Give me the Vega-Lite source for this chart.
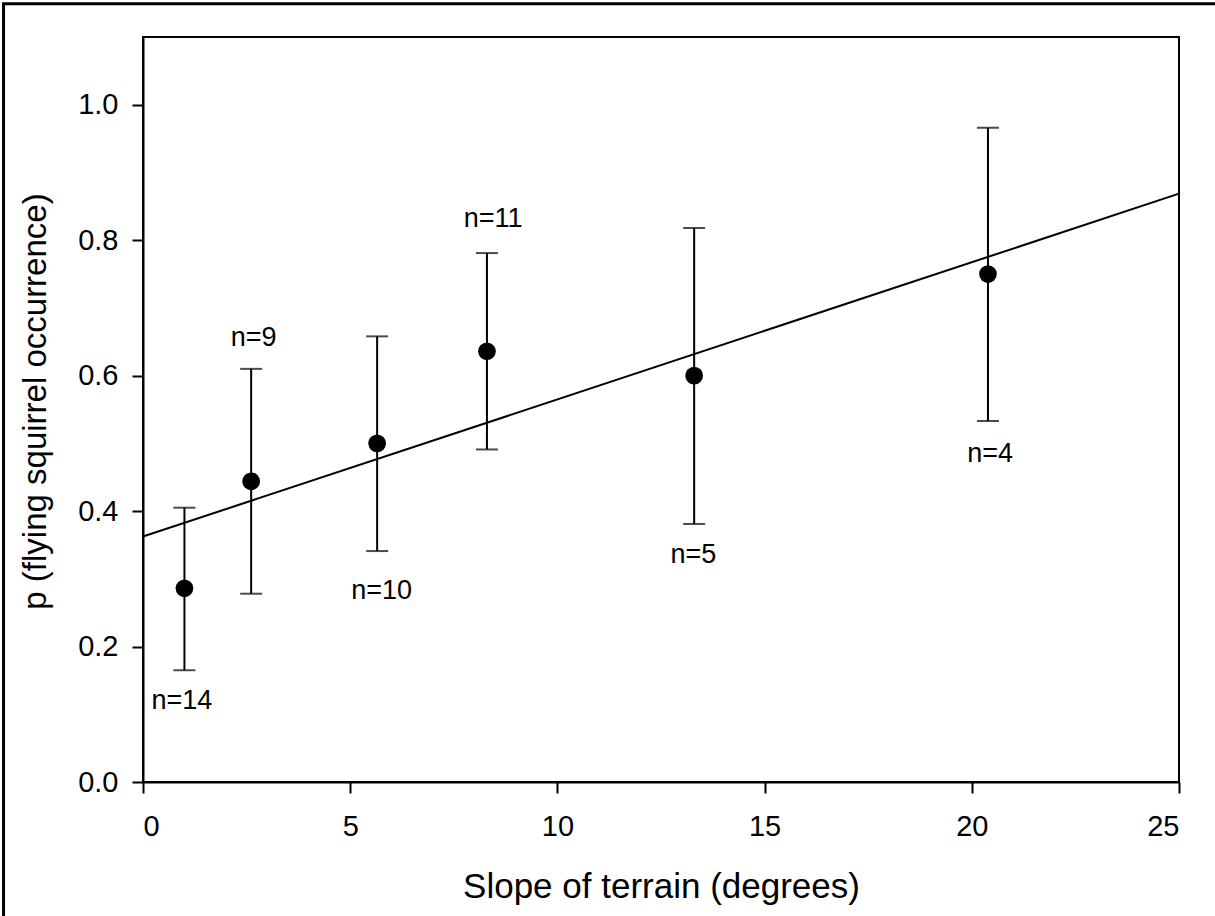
{
  "$schema": "https://vega.github.io/schema/vega-lite/v6.json",
  "autosize": "none",
  "width": 1036,
  "height": 745,
  "padding": {"left": 143, "top": 37, "right": 36, "bottom": 134},
  "background": "white",
  "config": {
    "view": {"stroke": "black", "strokeWidth": 2},
    "axis": {
      "grid": false,
      "domainColor": "black",
      "domainWidth": 2,
      "tickColor": "black",
      "tickWidth": 2,
      "tickSize": 11,
      "labelFont": "Liberation Sans",
      "labelFontSize": 29,
      "labelColor": "black",
      "titleFont": "Liberation Sans",
      "titleFontSize": 35,
      "titleFontWeight": "normal",
      "titleColor": "black"
    }
  },
  "datasets": {
    "pts": [
      {"slope": 1.0, "p": 0.286, "lo": 0.165, "hi": 0.405},
      {"slope": 2.61, "p": 0.444, "lo": 0.278, "hi": 0.610},
      {"slope": 5.65, "p": 0.500, "lo": 0.341, "hi": 0.658},
      {"slope": 8.30, "p": 0.636, "lo": 0.491, "hi": 0.781},
      {"slope": 13.30, "p": 0.600, "lo": 0.381, "hi": 0.818},
      {"slope": 20.39, "p": 0.750, "lo": 0.533, "hi": 0.966}
    ],
    "fit": [
      {"slope": 0, "p": 0.3624},
      {"slope": 25, "p": 0.8687}
    ],
    "labels": [
      {"lx": 0.94, "ly": 0.1195, "label": "n=14"},
      {"lx": 2.67, "ly": 0.656, "label": "n=9"},
      {"lx": 5.76, "ly": 0.282, "label": "n=10"},
      {"lx": 8.45, "ly": 0.832, "label": "n=11"},
      {"lx": 13.28, "ly": 0.335, "label": "n=5"},
      {"lx": 20.44, "ly": 0.485, "label": "n=4"}
    ]
  },
  "layer": [
    {
      "data": {"values": [{}]},
      "mark": {"type": "rect", "fill": null, "stroke": "black", "strokeWidth": 3, "clip": false},
      "encoding": {
        "x": {"datum": -3.365, "type": "quantitative", "scale": {"domain": [0, 25], "nice": false}},
        "x2": {"datum": 40},
        "y": {"datum": 1.149, "type": "quantitative", "scale": {"domain": [0, 1.1], "nice": false}},
        "y2": {"datum": -1}
      }
    },
    {
      "data": {"name": "fit"},
      "mark": {"type": "line", "color": "black", "strokeWidth": 2},
      "encoding": {
        "x": {"field": "slope", "type": "quantitative", "scale": {"domain": [0, 25], "nice": false},
              "axis": {"values": [0, 5, 10, 15, 20, 25], "title": "Slope of terrain (degrees)", "titlePadding": 28, "labelPadding": 19}},
        "y": {"field": "p", "type": "quantitative", "scale": {"domain": [0, 1.1], "nice": false},
              "axis": {"values": [0, 0.2, 0.4, 0.6, 0.8, 1.0], "format": ".1f", "title": "p (flying squirrel occurrence)", "titleFontSize": 33, "titleY": 364, "titlePadding": 25, "labelPadding": 14}}
      }
    },
    {
      "data": {"name": "pts"},
      "mark": {"type": "rule", "color": "black", "strokeWidth": 2},
      "encoding": {
        "x": {"field": "slope", "type": "quantitative"},
        "y": {"field": "lo", "type": "quantitative"},
        "y2": {"field": "hi"}
      }
    },
    {
      "data": {"name": "pts"},
      "mark": {"type": "tick", "orient": "horizontal", "color": "black", "size": 22, "thickness": 2},
      "encoding": {
        "x": {"field": "slope", "type": "quantitative"},
        "y": {"field": "lo", "type": "quantitative"}
      }
    },
    {
      "data": {"name": "pts"},
      "mark": {"type": "tick", "orient": "horizontal", "color": "black", "size": 22, "thickness": 2},
      "encoding": {
        "x": {"field": "slope", "type": "quantitative"},
        "y": {"field": "hi", "type": "quantitative"}
      }
    },
    {
      "data": {"name": "pts"},
      "mark": {"type": "point", "shape": "circle", "filled": true, "color": "black", "opacity": 1, "size": 314},
      "encoding": {
        "x": {"field": "slope", "type": "quantitative"},
        "y": {"field": "p", "type": "quantitative"}
      }
    },
    {
      "data": {"name": "labels"},
      "mark": {"type": "text", "font": "Liberation Sans", "fontSize": 27, "color": "black", "align": "center", "baseline": "middle"},
      "encoding": {
        "x": {"field": "lx", "type": "quantitative"},
        "y": {"field": "ly", "type": "quantitative"},
        "text": {"field": "label"}
      }
    }
  ]
}
